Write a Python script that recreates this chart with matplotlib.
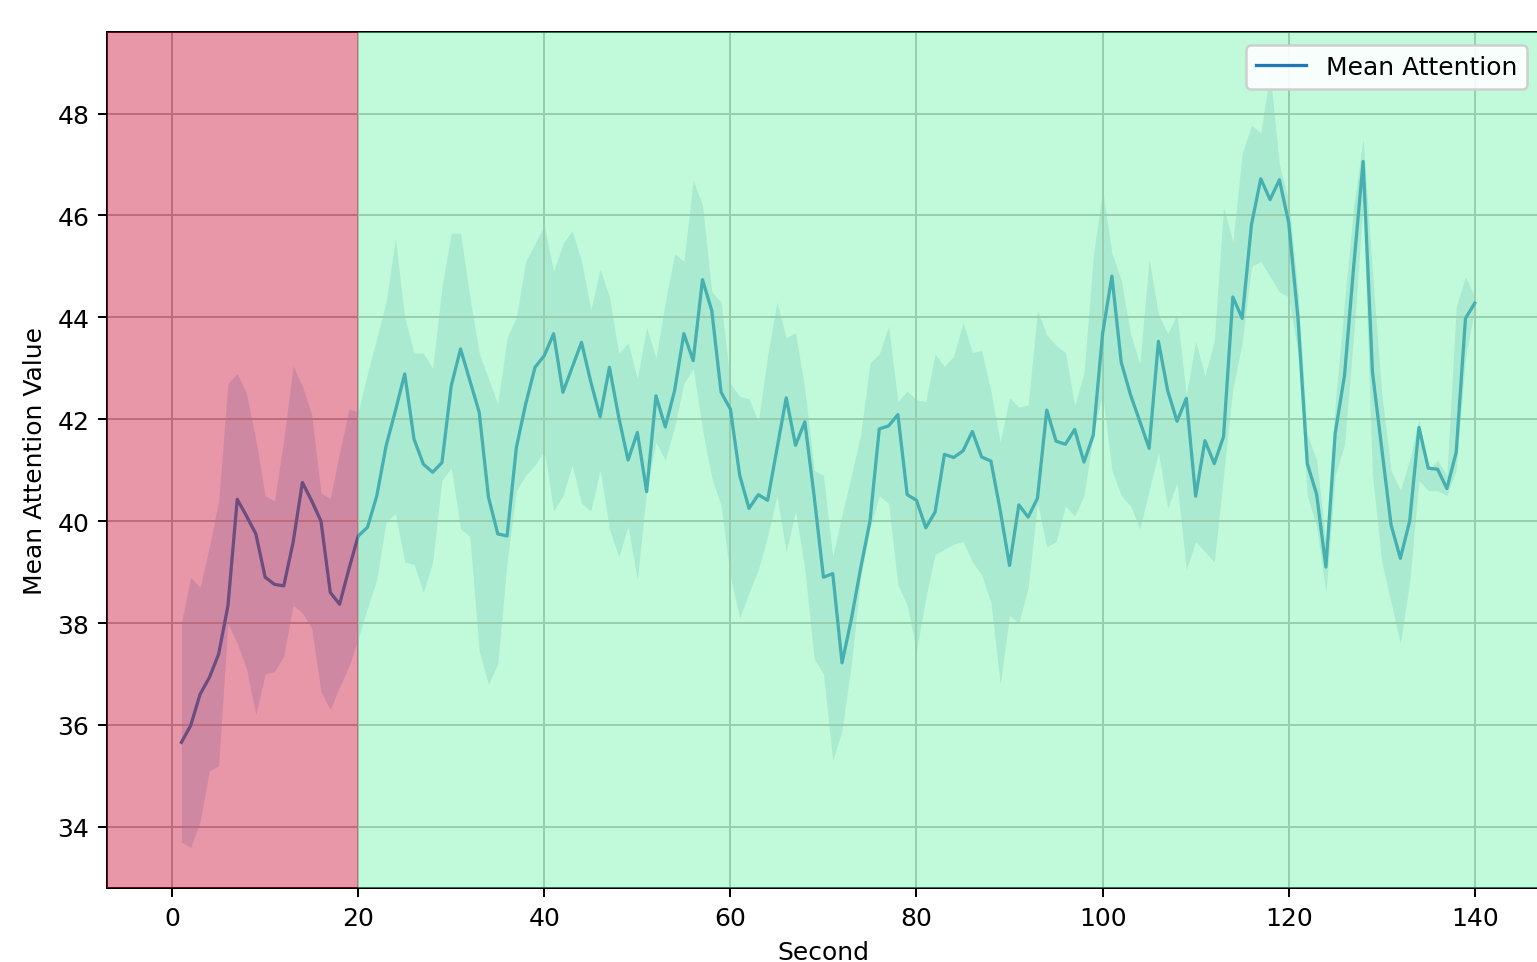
import numpy as np
import matplotlib
matplotlib.use("Agg")
import matplotlib.pyplot as plt

# seconds 1..140
seconds = list(range(1, 141))

mean_attention = [
    35.66, 35.99, 36.60, 36.93, 37.39, 38.34, 40.43, 40.10, 39.75, 38.90,
    38.76, 38.73, 39.58, 40.76, 40.40, 40.00, 38.60, 38.37, 39.06, 39.71,
    39.88, 40.50, 41.48, 42.17, 42.89, 41.61, 41.12, 40.96, 41.15, 42.66,
    43.38, 42.76, 42.14, 40.47, 39.75, 39.71, 41.45, 42.30, 43.02, 43.25,
    43.68, 42.53, 43.02, 43.51, 42.73, 42.05, 43.02, 42.04, 41.20, 41.74,
    40.58, 42.46, 41.85, 42.56, 43.68, 43.15, 44.74, 44.13, 42.53, 42.20,
    40.90, 40.25, 40.52, 40.41, 41.42, 42.42, 41.49, 41.95, 40.49, 38.90,
    38.97, 37.22, 38.08, 39.08, 40.00, 41.81, 41.87, 42.09, 40.52, 40.41,
    39.87, 40.18, 41.31, 41.25, 41.38, 41.76, 41.26, 41.18, 40.21, 39.13,
    40.32, 40.08, 40.45, 42.18, 41.57, 41.51, 41.80, 41.16, 41.69, 43.68,
    44.81, 43.12, 42.48, 41.96, 41.43, 43.53, 42.56, 41.96, 42.41, 40.49,
    41.58, 41.13, 41.66, 44.40, 43.98, 45.82, 46.72, 46.31, 46.70, 45.86,
    43.98, 41.13, 40.53, 39.10, 41.73, 42.86, 45.03, 47.06, 42.93, 41.43,
    39.93, 39.27, 40.00, 41.84, 41.04, 41.02, 40.64, 41.35, 43.98, 44.28,
]

band_upper = [
    38.00, 38.90, 38.70, 39.50, 40.40, 42.70, 42.90, 42.50, 41.60, 40.50,
    40.40, 41.60, 43.05, 42.65, 42.10, 40.55, 40.45, 41.35, 42.20, 42.15,
    42.90, 43.60, 44.30, 45.55, 44.00, 43.30, 43.30, 43.00, 44.60, 45.65,
    45.65, 44.40, 43.30, 42.80, 42.30, 43.60, 44.00, 45.10, 45.45, 45.80,
    44.90, 45.45, 45.70, 45.10, 44.15, 44.95, 44.40, 43.30, 43.50, 42.80,
    43.80, 43.20, 44.30, 45.25, 45.10, 46.70, 46.20, 44.50, 44.30, 42.70,
    42.45, 42.40, 41.95, 43.25, 44.30, 43.60, 43.70, 42.60, 41.00, 40.90,
    39.30, 40.14, 40.90, 41.70, 43.10, 43.28, 43.83, 42.35, 42.55, 42.38,
    42.35, 43.28, 43.04, 43.24, 43.90, 43.31, 43.35, 42.55, 41.56, 42.42,
    42.24, 42.28, 44.14, 43.66, 43.45, 43.31, 42.28, 42.90, 45.20, 46.50,
    45.26, 44.73, 43.68, 43.08, 45.15, 44.06, 43.68, 44.06, 42.48, 43.53,
    42.86, 43.53, 46.16, 45.48, 47.21, 47.77, 47.62, 48.80, 47.00, 46.30,
    44.50, 41.70, 41.20, 39.60, 42.30, 44.30, 46.20, 47.50, 44.90, 42.50,
    41.00, 40.60, 41.20, 42.00, 41.00, 41.20, 40.90, 44.20, 44.80, 44.40,
]

band_lower = [
    33.70, 33.60, 34.10, 35.10, 35.20, 38.00, 37.60, 37.10, 36.20, 37.00,
    37.05, 37.35, 38.35, 38.20, 37.90, 36.65, 36.30, 36.75, 37.15, 37.70,
    38.30, 38.85, 40.00, 40.15, 39.20, 39.15, 38.60, 39.20, 40.80, 41.05,
    39.85, 39.70, 37.45, 36.80, 37.20, 39.20, 40.60, 40.90, 41.10, 41.40,
    40.20, 40.50, 41.10, 40.35, 40.20, 41.00, 39.85, 39.30, 39.90, 38.85,
    40.60, 41.55, 41.20, 41.85, 42.70, 43.00, 41.80, 40.85, 40.30, 38.90,
    38.10, 38.60, 39.05, 39.70, 40.50, 39.40, 40.20, 39.05, 37.30, 37.00,
    35.30, 35.90, 37.20, 38.90, 39.85, 40.50, 40.35, 38.75, 38.35, 37.45,
    38.50, 39.35, 39.45, 39.55, 39.60, 39.20, 38.95, 38.40, 36.80, 38.15,
    38.00, 38.70, 40.35, 39.50, 39.60, 40.30, 40.10, 40.50, 41.70, 42.50,
    41.00, 40.50, 40.30, 39.85, 40.60, 41.35, 40.25, 40.75, 39.05, 39.60,
    39.40, 39.20, 40.90, 42.60, 43.50, 45.00, 45.10, 44.80, 44.50, 44.40,
    43.30, 40.50, 39.90, 38.60, 40.90, 41.50, 43.70, 46.20, 40.90, 39.20,
    38.40, 37.60, 38.80, 40.80, 40.60, 40.60, 40.50, 41.00, 43.20, 44.20,
]

split_second = 20

DPI = 180
fig = plt.figure(figsize=(1537 / DPI, 963 / DPI), dpi=DPI)
ax = fig.add_axes([0.0696, 0.0768, 0.9323, 0.8889])

ax.plot(seconds, mean_attention, color="tab:blue", linewidth=1.3, label="Mean Attention")
ax.fill_between(seconds, band_lower, band_upper, color="tab:blue", alpha=0.2, linewidth=0)

ax.set_xlim(-7, 147)
ax.set_ylim(32.8, 49.6)
x0, x1 = ax.get_xlim()

# shaded phases drawn over the data, like the original
ax.axvspan(x0, split_second, color="#cc1a42", alpha=0.45, zorder=3, linewidth=0)
ax.axvspan(split_second, x1, color="#77f4ad", alpha=0.45, zorder=3, linewidth=0)

ax.set_xticks(np.arange(0, 141, 20))
ax.set_yticks(np.arange(34, 49, 2))
ax.grid(True)
ax.set_xlabel("Second")
ax.set_ylabel("Mean Attention Value")
ax.legend(loc="upper right", framealpha=0.9)

fig.savefig("out.png", dpi=DPI)
